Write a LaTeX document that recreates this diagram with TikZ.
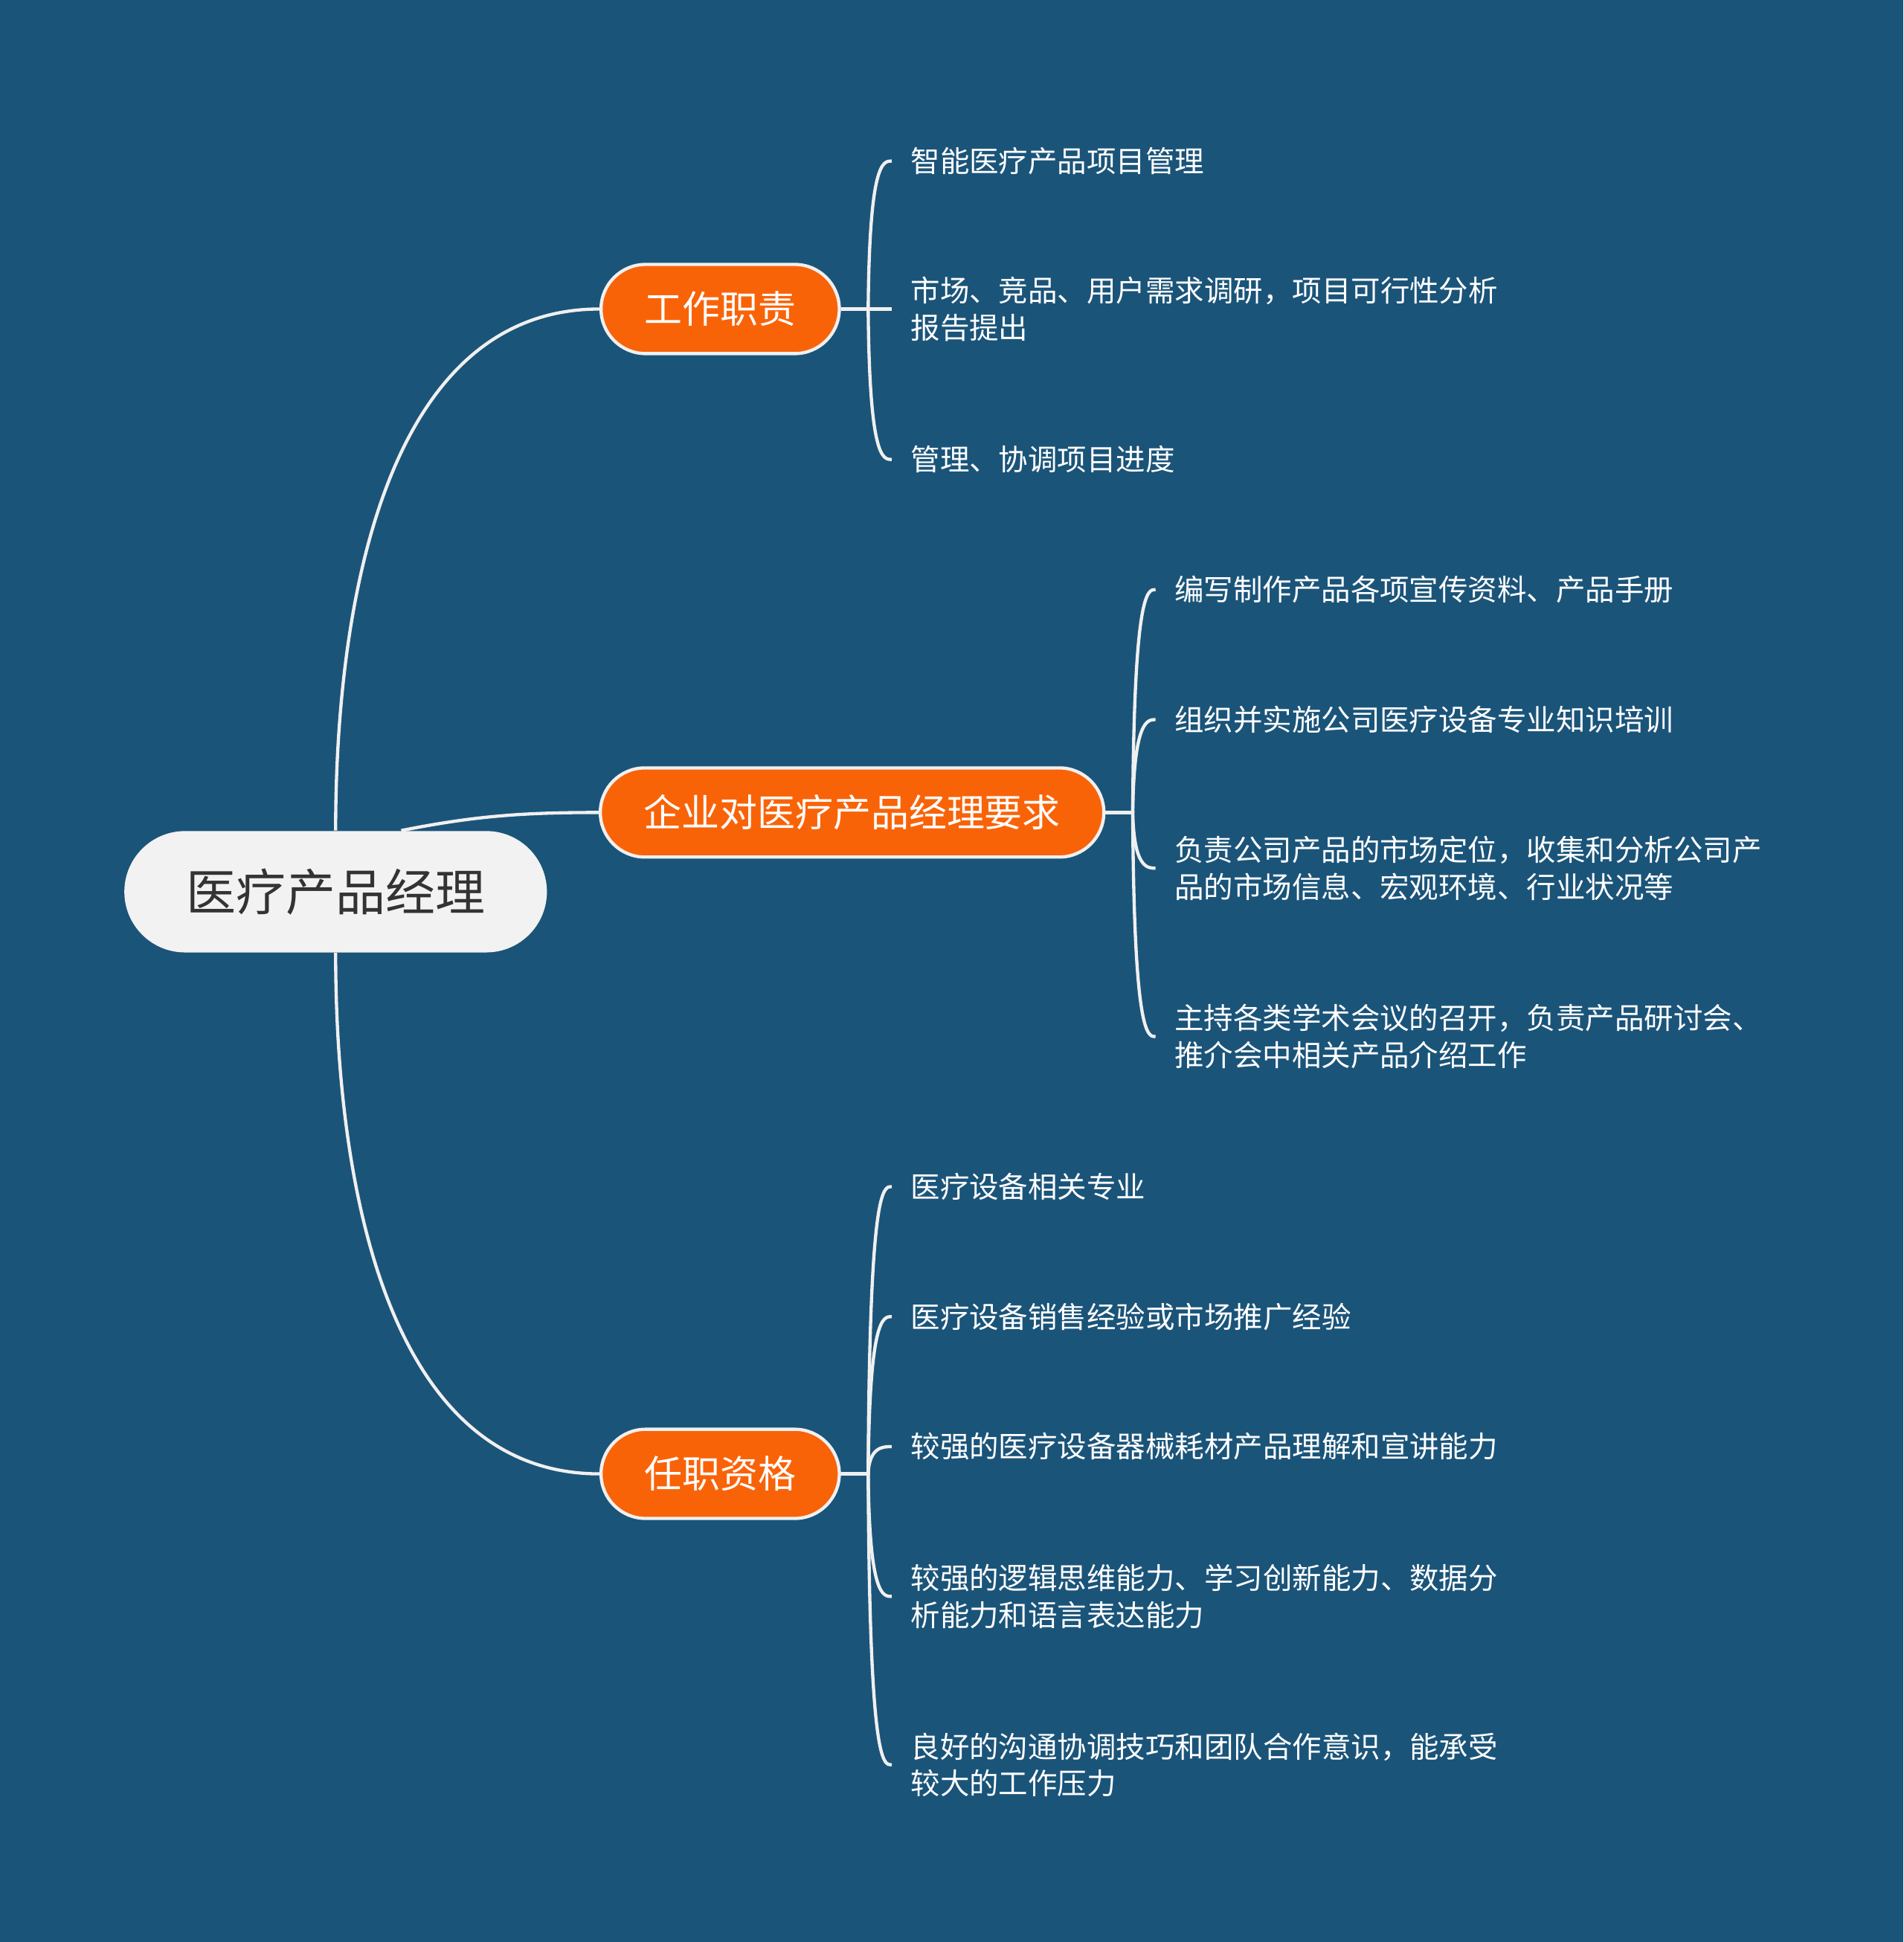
\documentclass[tikz,border=0pt]{standalone}
\usepackage{fontspec}
\setmainfont{Noto Sans CJK SC}
\usetikzlibrary{calc}
\definecolor{Board}{HTML}{1B5479}
\definecolor{Flame}{HTML}{F96308}
\definecolor{Paper}{HTML}{F2F2F2}
\definecolor{Wire}{HTML}{F0F0F0}
\definecolor{Ink}{HTML}{333333}
\tikzset{
  central/.style={rounded corners=24.5pt,fill=Paper,text=Ink,minimum height=49pt,
    inner xsep=25pt,font=\fontsize{20.1}{24}\selectfont},
  topic/.style={rounded corners=18pt,fill=Flame,draw=Wire,line width=1.3pt,text=white,
    minimum height=36pt,inner xsep=17.5pt,font=\fontsize{15.3}{18}\selectfont},
  leaf/.style={anchor=west,text=white,align=left,inner xsep=7.5pt,inner ysep=0pt,
    font=\fontsize{11.85}{15}\selectfont},
  link/.style={draw=Wire,line width=1.3pt},
}
\newcommand{\leafnode}[5]{%
  \node[leaf] (#1) at (#3,#4) {#5};
  \draw[link] (#2.east) -- ++(22,0) coordinate (#1-fork)
    .. controls ($(#1-fork |- #1.west)+(1,0)$) and ($(#1-fork |- #1.west)+(12,0)$) .. (#1.west);
}
\begin{document}
\begin{tikzpicture}[x=0.5pt,y=-0.5pt]
      \fill[Board] (0,0) rectangle (1537,1568);
      \useasboundingbox (0,0) rectangle (1537,1568);

      \node[central] (root) at (271,720) {医疗产品经理};
      \node[topic] (b1) at (581.5,249.5) {工作职责};
      \node[topic] (b2) at (688,656) {企业对医疗产品经理要求};
      \node[topic] (b3) at (581.5,1190) {任职资格};

      \draw[link] (root.north) .. controls +(0,-190) and +(-170,0) .. (b1.west);
      \draw[link] ([xshift=26.5pt]root.north) .. controls +(60,-12) and +(-60,0) .. (b2.west);
      \draw[link] (root.south) .. controls +(0,190) and +(-170,0) .. (b3.west);

      % 工作职责
      \leafnode{l11}{b1}{720}{130}{智能医疗产品项目管理}
      \leafnode{l12}{b1}{720}{249.5}{市场、竞品、用户需求调研，项目可行性分析\\报告提出}
      \leafnode{l13}{b1}{720}{371}{管理、协调项目进度}

      % 企业对医疗产品经理要求
      \leafnode{l21}{b2}{933}{476}{编写制作产品各项宣传资料、产品手册}
      \leafnode{l22}{b2}{933}{581}{组织并实施公司医疗设备专业知识培训}
      \leafnode{l23}{b2}{933}{701}{负责公司产品的市场定位，收集和分析公司产\\品的市场信息、宏观环境、行业状况等}
      \leafnode{l24}{b2}{933}{837}{主持各类学术会议的召开，负责产品研讨会、\\推介会中相关产品介绍工作}

      % 任职资格
      \leafnode{l31}{b3}{720}{958}{医疗设备相关专业}
      \leafnode{l32}{b3}{720}{1063}{医疗设备销售经验或市场推广经验}
      \leafnode{l33}{b3}{720}{1168}{较强的医疗设备器械耗材产品理解和宣讲能力}
      \leafnode{l34}{b3}{720}{1289}{较强的逻辑思维能力、学习创新能力、数据分\\析能力和语言表达能力}
      \leafnode{l35}{b3}{720}{1425}{良好的沟通协调技巧和团队合作意识，能承受\\较大的工作压力}
    \end{tikzpicture}
\end{document}
